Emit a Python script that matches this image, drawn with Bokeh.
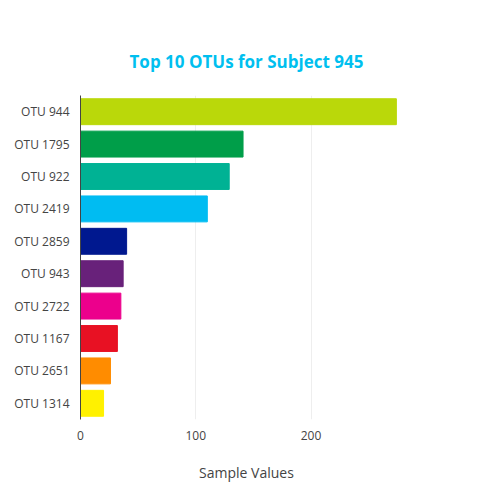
from bokeh.plotting import figure
from bokeh.models import ColumnDataSource, Range1d, FixedTicker
from bokeh.embed import file_html
from bokeh.resources import INLINE

otus = ["OTU 944", "OTU 1795", "OTU 922", "OTU 2419", "OTU 2859",
        "OTU 943", "OTU 2722", "OTU 1167", "OTU 2651", "OTU 1314"]
values = [274, 141, 129, 110, 40, 37, 35, 32, 26, 20]
colors = ["#bad80a", "#009e49", "#00b294", "#00bcf2", "#00188f",
          "#68217a", "#ec008c", "#e81123", "#ff8c00", "#fff100"]

source = ColumnDataSource(dict(otu=otus, value=values, color=colors))

p = figure(width=484, height=484, y_range=list(reversed(otus)),
           x_range=Range1d(0, 288), output_backend="svg", toolbar_location=None,
           min_border_left=80, min_border_right=72, min_border_bottom=60,
           min_border_top=95, title="Top 10 OTUs for Subject 945")
p.hbar(y="otu", right="value", height=0.8, color="color", source=source)

p.title.align = "center"
p.title.text_color = "#00bfef"
p.title.text_font = "Open Sans"
p.title.text_font_size = "17px"
p.title.standoff = 45
p.outline_line_color = None
p.ygrid.grid_line_color = None
p.xgrid.grid_line_color = "#eeeeee"
p.xaxis.ticker = FixedTicker(ticks=[0, 100, 200])
p.xaxis.axis_label = "Sample Values"
p.xaxis.axis_label_text_font = "Open Sans"
p.xaxis.axis_label_text_font_style = "normal"
p.xaxis.axis_label_text_font_size = "14px"
p.xaxis.axis_label_text_color = "#444444"
p.xaxis.axis_label_standoff = 20
p.xaxis.axis_line_color = None
p.xaxis.major_tick_line_color = None
p.xaxis.minor_tick_line_color = None
p.yaxis.major_tick_line_color = None
p.yaxis.axis_line_color = "#444444"
for ax in (p.xaxis, p.yaxis):
    ax.major_label_text_font = "Open Sans"
    ax.major_label_text_font_size = "12px"
    ax.major_label_text_color = "#444444"

open("out.html", "w").write(file_html(p, INLINE))
